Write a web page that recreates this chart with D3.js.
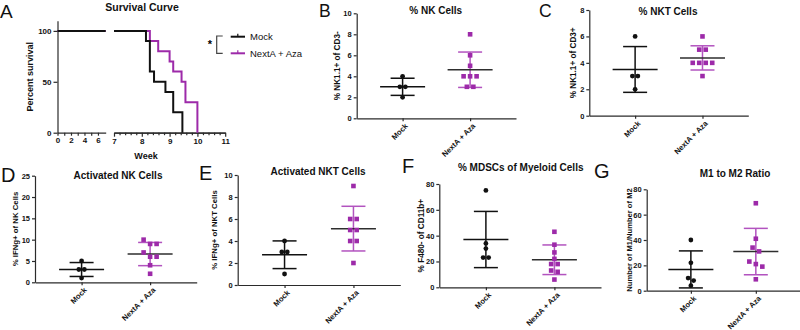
<!DOCTYPE html>
<html>
<head>
<meta charset="utf-8">
<script src="https://cdn.jsdelivr.net/npm/d3@7"></script>
<style>
  body { margin: 0; background: #fff; }
  svg { font-family: "Liberation Sans", Arial, sans-serif; }
  .title { font-weight: bold; font-size: 10px; text-anchor: middle; fill: #111; }
  .letter { font-size: 19px; fill: #111; }
  .axis path, .axis line { stroke: #2b2b2b; stroke-width: 1.2; }
  .axis text { font-weight: bold; font-size: 7.5px; fill: #111; }
  .ylabel { font-weight: bold; font-size: 8.2px; text-anchor: middle; fill: #111; }
  .xlabel { font-weight: bold; font-size: 7.6px; text-anchor: end; fill: #111; }
  .legend-text { font-size: 9.5px; fill: #111; }
</style>
</head>
<body>
<div id="fig"></div>
<script>
// ---- data ----
const groups = ['Mock', 'NextA + Aza'];

// survival (weeks of each death, % surviving after it)
const mockWeeks = [8.15, 8.29, 8.44, 8.85, 9.13, 9.46];
const mockSurvival = [90, 60, 50, 40, 20, 0];
const nextaWeeks = [8.29, 8.59, 9.0, 9.13, 9.43, 9.57, 10.0];
const nextaSurvival = [90, 80, 70, 60, 50, 30, 0];
const survivalTicks = [0, 50, 100];
const weekTicksLeft = [0, 2, 4, 6];
const weekTicksRight = [7, 8, 9, 10, 11];

// dot plots
const nkMock = [4, 3, 3, 2];
const nkNexta = [8, 6, 5, 4, 4, 4, 3, 3];
const nktMock = [6, 3, 3, 2];
const nktNexta = [6, 5, 5, 4, 4, 4, 4, 3];
const actNkMock = [5, 3, 3, 1];
const actNkNexta = [10, 9, 9, 7, 6, 6, 4, 2];
const actNktMock = [4, 3, 3, 1];
const actNktNexta = [9, 6, 6, 5, 5, 4, 4, 2];
const mdscMock = [75, 34, 30, 23, 23];
const mdscNexta = [43, 33, 27, 22, 18, 18, 13, 12, 6];
const ratioMock = [40, 22, 10, 8, 4];
const ratioNexta = [69, 41, 34, 31, 23, 21, 19, 9];

const nkTicks = [0, 2, 4, 6, 8, 10];
const nktTicks = [0, 2, 4, 6, 8];
const actNkTicks = [0, 5, 10, 15, 20, 25];
const actNktTicks = [0, 2, 4, 6, 8, 10];
const mdscTicks = [0, 20, 40, 60, 80];
const ratioTicks = [0, 20, 40, 60, 80];

const black = '#111';
const purple = '#9d2aa9';
const purpleBar = '#b253bf';

const svg = d3.select('#fig').append('svg').attr('width', 800).attr('height', 330);

// ---- Panel A: survival ----
function drawSurvival() {
    const g = svg.append('g');
    const y = d3.scaleLinear().domain([0, 110]).range([132.7, 20.7]);
    const x1 = d3.scaleLinear().domain([0, 7.15]).range([57.5, 105.7]);
    const x2 = d3.scaleLinear().domain([7, 11]).range([114, 225.2]);

    g.append('g').attr('class', 'axis').style('font-size', '8px').attr('transform', `translate(${x1.range()[0]},0)`)
        .call(d3.axisLeft(y).tickValues(survivalTicks).tickSize(4).tickPadding(2).tickSizeOuter(0));

    // left piece of the broken x axis
    g.append('g').attr('class', 'axis').attr('transform', `translate(0,${y(0)})`)
        .call(d3.axisBottom(x1).tickValues(d3.range(0, 7)).tickSize(3).tickPadding(2).tickSizeOuter(0)
            .tickFormat(d => weekTicksLeft.includes(d) ? d : ''));
    // right piece: majors + minor ticks every 0.2 week
    const minor = d3.range(7, 11.001, 0.2).map(d => +d.toFixed(1)).filter(d => !weekTicksRight.includes(d));
    g.append('g').attr('class', 'axis').attr('transform', `translate(0,${y(0)})`)
        .call(d3.axisBottom(x2).tickValues(minor).tickSize(2.5).tickFormat('').tickSizeOuter(0));
    g.append('g').attr('class', 'axis').attr('transform', `translate(0,${y(0)})`)
        .call(d3.axisBottom(x2).tickValues(weekTicksRight).tickSize(4).tickPadding(1.5)
            .tickFormat(d3.format('d')).tickSizeOuter(0));
    g.selectAll('.axis text').style('font-size', '8px');

    const curves = [
        {weeks: nextaWeeks, surv: nextaSurvival, color: purple},
        {weeks: mockWeeks, surv: mockSurvival, color: black}
    ];
    curves.forEach(c => {
        let pts = [[7, 100]].concat(c.weeks.map((w, i) => [w, c.surv[i]]));
        let line2 = d3.line().x(d => x2(d[0])).y(d => y(d[1])).curve(d3.curveStepAfter);
        let line1 = d3.line().x(d => x1(d[0])).y(d => y(d[1]));
        g.append('path').datum([[0, 100], [x1.domain()[1], 100]]).attr('d', line1)
            .attr('fill', 'none').attr('stroke', c.color).attr('stroke-width', 2);
        g.append('path').datum(pts).attr('d', line2)
            .attr('fill', 'none').attr('stroke', c.color).attr('stroke-width', 2);
    });

    g.append('text').attr('class', 'title').attr('x', 142).attr('y', 7).attr('dy', '0.35em')
        .style('font-size', '10.5px').text('Survival Curve');
    g.append('text').attr('class', 'ylabel').style('font-size', '9px')
        .attr('transform', 'translate(30,76.7)rotate(-90)').attr('dy', '0.35em').text('Percent survival');
    g.append('text').attr('class', 'ylabel').style('font-size', '9px')
        .attr('x', 146).attr('y', 156).attr('dy', '0.35em').text('Week');
    g.append('text').attr('class', 'letter').attr('x', 0).attr('y', 17.5).text('A');

    // legend with significance bracket
    const lg = g.append('g');
    lg.append('text').attr('x', 210).attr('y', 48).attr('text-anchor', 'middle')
        .style('font-size', '11px').style('font-weight', 'bold').text('*');
    lg.append('path').attr('d', 'M222.7,36H216.7V53.3H222.7').attr('fill', 'none')
        .attr('stroke', '#444').attr('stroke-width', 1.2);
    [[black, 36.7, groups[0]], [purple, 53.3, groups[1]]].forEach(([col, ly, name]) => {
        lg.append('line').attr('x1', 230.7).attr('x2', 245).attr('y1', ly).attr('y2', ly)
            .attr('stroke', col).attr('stroke-width', 2);
        lg.append('line').attr('x1', 237.8).attr('x2', 237.8).attr('y1', ly).attr('y2', ly - 3)
            .attr('stroke', col).attr('stroke-width', 1.2);
        lg.append('text').attr('class', 'legend-text').attr('x', 250).attr('y', ly).attr('dy', '0.35em').text(name);
    });
}

// spread points that sit on (nearly) the same row, centred on the group
function swarm(values, y, gap) {
    let order = values.map((v, i) => ({v, i, py: y(v)})).sort((a, b) => a.py - b.py);
    let rows = [];
    order.forEach(p => {
        let last = rows[rows.length - 1];
        if (last && p.py - last[last.length - 1].py < 4.5) last.push(p);
        else rows.push([p]);
    });
    let out = new Array(values.length);
    rows.forEach(r => r.forEach((p, k) => out[p.i] = (k - (r.length - 1) / 2) * gap));
    return out;
}

// ---- dot plot panels (mean +/- SD) ----
function drawDotPlot(cfg) {
    const g = svg.append('g');
    const yTicks = cfg.ticks;
    const y = d3.scaleLinear().domain([0, d3.max(yTicks)]).range([cfg.yBottom, cfg.yTop]);
    const x = d3.scalePoint().domain(groups).range([cfg.x0, cfg.x1]).padding(0.68);

    g.append('g').attr('class', 'axis').attr('transform', `translate(${cfg.x0},0)`)
        .call(d3.axisLeft(y).tickValues(yTicks).tickSize(3).tickPadding(2).tickSizeOuter(0));
    g.append('g').attr('class', 'axis').attr('transform', `translate(0,${cfg.yBottom})`)
        .call(d3.axisBottom(x).tickSize(3).tickSizeOuter(0).tickFormat(''));
    groups.forEach(name => {
        g.append('text').attr('class', 'xlabel')
            .attr('transform', `translate(${x(name) + 2},${cfg.yBottom + 4.5})rotate(-45)`)
            .attr('dy', '0.7em').text(name);
    });

    const sets = [
        {name: groups[0], vals: cfg.mock, dot: black, bar: black, mean: black, square: false},
        {name: groups[1], vals: cfg.nexta, dot: purple, bar: purpleBar, mean: '#2e2e2e', square: true}
    ];
    sets.forEach(s => {
        let cx = x(s.name);
        let m = d3.mean(s.vals), sd = d3.deviation(s.vals);
        g.append('line').attr('x1', cx).attr('x2', cx).attr('y1', y(m - sd)).attr('y2', y(m + sd))
            .attr('stroke', s.bar).attr('stroke-width', 1.5);
        [m - sd, m + sd].forEach(v => {
            g.append('line').attr('x1', cx - 12).attr('x2', cx + 12).attr('y1', y(v)).attr('y2', y(v))
                .attr('stroke', s.bar).attr('stroke-width', 1.5);
        });
        g.append('line').attr('x1', cx - 22.5).attr('x2', cx + 22.5).attr('y1', y(m)).attr('y2', y(m))
            .attr('stroke', s.mean).attr('stroke-width', 1.5);

        let offs = swarm(s.vals, y, s.square ? 6.5 : 5.5);
        if (s.square) {
            g.selectAll(null).data(s.vals).join('rect')
                .attr('x', (d, i) => cx + offs[i] - 2.3).attr('y', d => y(d) - 2.3)
                .attr('width', 4.6).attr('height', 4.6).attr('fill', s.dot);
        } else {
            g.selectAll(null).data(s.vals).join('circle')
                .attr('cx', (d, i) => cx + offs[i]).attr('cy', d => y(d)).attr('r', 2.4).attr('fill', s.dot);
        }
    });

    g.append('text').attr('class', 'title').attr('x', cfg.title[0]).attr('y', cfg.title[1])
        .attr('dy', '0.35em').text(cfg.title[2]);
    g.append('text').attr('class', 'ylabel').style('font-size', (cfg.ylabel[2] || 8.2) + 'px')
        .attr('transform', `translate(${cfg.ylabel[0]},${(cfg.yTop + cfg.yBottom) / 2})rotate(-90)`)
        .attr('dy', '0.35em').text(cfg.ylabel[1]);
    g.append('text').attr('class', 'letter').style('font-size', cfg.letter[3] + 'px')
        .attr('x', cfg.letter[0]).attr('y', cfg.letter[1]).text(cfg.letter[2]);
}

drawSurvival();

drawDotPlot({mock: nkMock, nexta: nkNexta, ticks: nkTicks,
    x0: 356.7, x1: 516, yTop: 13.3, yBottom: 118.3,
    title: [435.7, 10, '% NK Cells'], ylabel: [336.7, '% NK1.1+ of CD3-'], letter: [319, 16.5, 'B', 17.5]});
drawDotPlot({mock: nktMock, nexta: nktNexta, ticks: nktTicks,
    x0: 589.3, x1: 748.3, yTop: 10, yBottom: 115.7,
    title: [668, 11.7, '% NKT Cells'], ylabel: [573.3, '% NK1.1+ of CD3+'], letter: [539, 16.5, 'C', 17.5]});
drawDotPlot({mock: actNkMock, nexta: actNkNexta, ticks: actNkTicks,
    x0: 35, x1: 196.7, yTop: 175.7, yBottom: 282.3,
    title: [118, 175, 'Activated NK Cells'], ylabel: [15, '% IFNg+ of NK Cells', 7.8], letter: [1, 181.5, 'D', 20]});
drawDotPlot({mock: actNktMock, nexta: actNktNexta, ticks: actNktTicks,
    x0: 237.7, x1: 400.3, yTop: 175, yBottom: 285,
    title: [318, 171.7, 'Activated NKT Cells'], ylabel: [214, '% IFNg+ of NKT Cells', 7.8], letter: [199, 180, 'E', 20]});
drawDotPlot({mock: mdscMock, nexta: mdscNexta, ticks: mdscTicks,
    x0: 439.3, x1: 601, yTop: 184, yBottom: 287.3,
    title: [520.7, 167.3, '% MDSCs of Myeloid Cells'], ylabel: [421, '% F480- of CD11b+'], letter: [402, 173, 'F', 20]});
drawDotPlot({mock: ratioMock, nexta: ratioNexta, ticks: ratioTicks,
    x0: 646.7, x1: 800, yTop: 189.3, yBottom: 290.7,
    title: [735, 173.3, 'M1 to M2 Ratio'], ylabel: [629, 'Number of M1/Number of M2', 7.6], letter: [594, 177.5, 'G', 20]});
</script>
</body>
</html>
